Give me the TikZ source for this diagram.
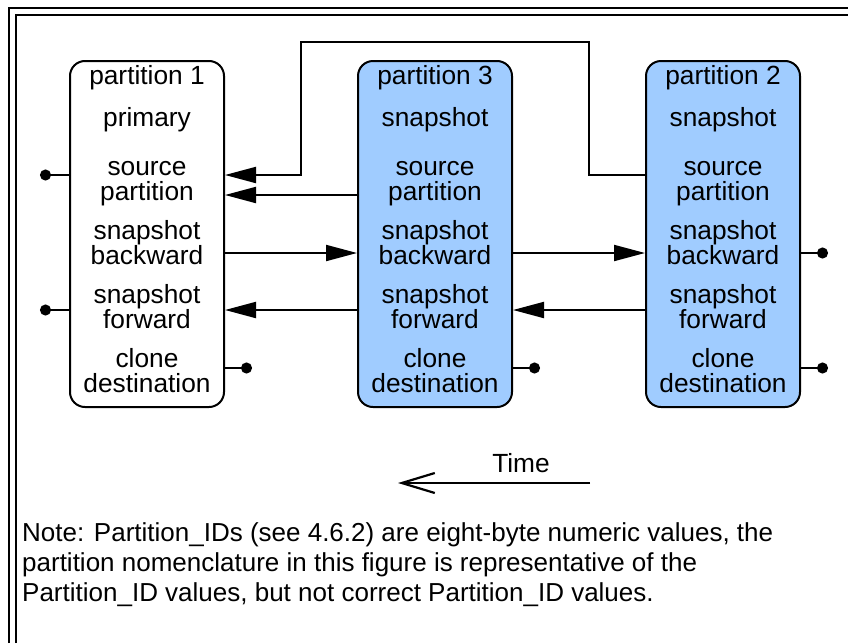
\documentclass[tikz,border=0pt]{standalone}
\usepackage{fontspec}
\setmainfont{Liberation Sans}
\usetikzlibrary{arrows.meta}
\definecolor{pblue}{RGB}{160,204,255}
\tikzset{
  pbox/.style={draw=black, line width=2pt, rounded corners=15pt, minimum width=154pt, minimum height=346pt, inner sep=0pt},
  lbl/.style={anchor=base, inner sep=0pt, font=\fontsize{26.3}{25}\selectfont},
  note/.style={anchor=base west, inner sep=0pt, font=\fontsize{26}{30}\selectfont},
  arr/.style={line width=2pt, -{Triangle[length=31pt, width=16pt]}},
  dotend/.style={line width=2pt, -{Circle[length=11pt]}},
  timearr/.style={line width=2.2pt, -{Straight Barb[length=33pt, width=20pt, line width=2.2pt]}},
  frame/.style={line width=2pt}
}
\begin{document}
\begin{tikzpicture}[x=1pt,y=-1pt]
\useasboundingbox (0,0) rectangle (848,643);
% frame (double line, cropped on right and bottom)
\draw[frame] (9,643) -- (9,8) -- (848,8);
\draw[frame] (16,643) -- (16,15) -- (848,15);

% partition boxes
\node[pbox, fill=white] (p1) at (147,234) {};
\node[pbox, fill=pblue] (p3) at (435,234) {};
\node[pbox, fill=pblue] (p2) at (723,234) {};

% labels
\foreach \b/\x/\t in {a/147/partition 1, b/435/partition 3, c/723/partition 2}{
  \node[lbl] (t\b) at (\x,84) {\t};
}
\node[lbl] (p1r) at (147,126) {primary};
\node[lbl] (p3r) at (435,126) {snapshot};
\node[lbl] (p2r) at (723,126) {snapshot};
\foreach \n/\x in {1/147, 3/435, 2/723}{
  \node[lbl] (p\n sa) at (\x,175) {source};
  \node[lbl] (p\n sb) at (\x,200) {partition};
  \node[lbl] (p\n ba) at (\x,239) {snapshot};
  \node[lbl] (p\n bb) at (\x,264) {backward};
  \node[lbl] (p\n fa) at (\x,303) {snapshot};
  \node[lbl] (p\n fb) at (\x,328) {forward};
  \node[lbl] (p\n ca) at (\x,367) {clone};
  \node[lbl] (p\n cb) at (\x,392) {destination};
}

% loop connector from partition 2 to partition 1
\coordinate (lA) at (589,175);
\coordinate (lB) at (589,42);
\coordinate (lC) at (301,42);
\coordinate (lD) at (301,175);
\draw[arr] (p2.west |- lA) -- (lA) -- (lB) -- (lC) -- (lD) -- (p1.east |- lD);

% source partition from partition 3
\draw[arr] (p3.west |- 0,195) -- (p1.east |- 0,195);

% snapshot backward
\draw[arr] (p1.east |- 0,253) -- (p3.west |- 0,253);
\draw[arr] (p3.east |- 0,253) -- (p2.west |- 0,253);

% snapshot forward
\draw[arr] (p3.west |- 0,310) -- (p1.east |- 0,310);
\draw[arr] (p2.west |- 0,310) -- (p3.east |- 0,310);

% dangling ends
\coordinate (d1) at (40,175);
\coordinate (d2) at (40,310);
\coordinate (d3) at (252,368);
\coordinate (d4) at (540,368);
\coordinate (d5) at (828,253);
\coordinate (d6) at (828,368);
\draw[dotend] (p1.west |- d1) -- (d1);
\draw[dotend] (p1.west |- d2) -- (d2);
\draw[dotend] (p1.east |- d3) -- (d3);
\draw[dotend] (p3.east |- d4) -- (d4);
\draw[dotend] (p2.east |- d5) -- (d5);
\draw[dotend] (p2.east |- d6) -- (d6);

% time arrow
\node[lbl] (time) at (521,472) {Time};
\coordinate (ts) at (590,483);
\coordinate (te) at (398,483);
\draw[timearr] (ts) -- (te);

% note
\node[note] (n1) at (22,541.5) {Note: Partition\_IDs (see 4.6.2) are eight-byte numeric values, the};
\node[note] (n2) at (22,571.5) {partition nomenclature in this figure is representative of the};
\node[note] (n3) at (22,601.5) {Partition\_ID values, but not correct Partition\_ID values.};
\end{tikzpicture}
\end{document}
